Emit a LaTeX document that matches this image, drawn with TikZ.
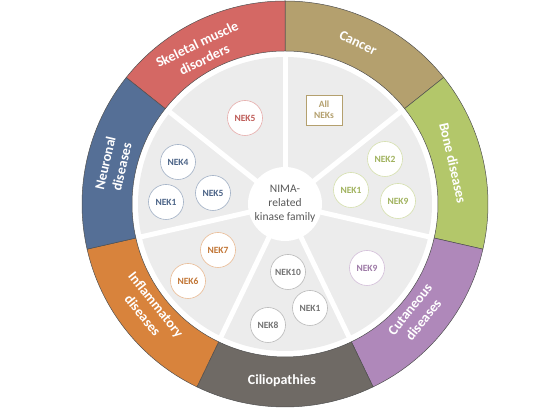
\documentclass[tikz,border=0pt]{standalone}
\usepackage{fontspec}
\setmainfont{Carlito}
\usetikzlibrary{calc}
\definecolor{cskel}{RGB}{212,104,100}
\definecolor{ccanc}{RGB}{180,160,110}
\definecolor{cbone}{RGB}{179,199,106}
\definecolor{ccuta}{RGB}{175,136,186}
\definecolor{ccili}{RGB}{111,106,101}
\definecolor{cinfl}{RGB}{216,131,60}
\definecolor{cneur}{RGB}{85,111,150}
\definecolor{innergrey}{RGB}{236,236,236}
\definecolor{edge}{RGB}{80,80,80}
\definecolor{centertext}{RGB}{89,89,89}
\tikzset{
  ringlabel/.style={text=white, font=\bfseries\fontsize{14}{17}\selectfont, align=center, inner sep=0pt},
  nek/.style={circle, draw=#1!55, fill=white, line width=0.6pt, minimum size=35pt, inner sep=0pt,
    text=#1!90!black, font=\bfseries\fontsize{9.5}{11}\selectfont},
  nekbox/.style={rectangle, draw=#1, fill=white, line width=0.6pt, minimum width=36pt, minimum height=30pt,
    inner sep=0pt, text=#1, align=center, font=\bfseries\fontsize{9.5}{11}\selectfont},
  separator/.style={white, line width=5pt},
  segment/.style={fill=#1, draw=edge, line width=0.5pt}
}
\begin{document}
\begin{tikzpicture}[x=1pt,y=1pt]
\useasboundingbox (0,0) rectangle (550,411);
\coordinate (C) at (285,207);
\begin{scope}[shift={(C)}]
  % outer ring segments
  \foreach \i/\col in {0/ccanc,1/cbone,2/ccuta,3/ccili,4/cinfl,5/cneur,6/cskel}{
    \pgfmathsetmacro\a{90-\i*360/7}
    \pgfmathsetmacro\b{90-(\i+1)*360/7}
    \draw[segment=\col] (\a:203) arc[start angle=\a, end angle=\b, radius=203]
      -- (\b:153) arc[start angle=\b, end angle=\a, radius=153] -- cycle;
  }
  % inner grey disk
  \fill[innergrey] (0,0) circle (147);
  \foreach \i in {0,...,6}{
    \pgfmathsetmacro\a{90-\i*360/7}
    \draw[separator] (0,0) -- (\a:150);
  }
\end{scope}
\node[circle, fill=white, minimum size=74pt, inner sep=0pt, align=center, text=centertext,
  font=\fontsize{11.5}{14}\selectfont] (center) at (C) {NIMA-\\related\\kinase family};

% ring labels
\node[ringlabel, rotate=25.7] (lskel) at ($(C)+(119:174)$) {Skeletal muscle\\disorders};
\node[ringlabel, rotate=-25.7] (lcanc) at ($(C)+(65.6:177)$) {Cancer};
\node[ringlabel, rotate=-77.1] (lbone) at ($(C)+(13.7:173)$) {Bone diseases};
\node[ringlabel, rotate=51.4] (lcuta) at ($(C)+(-40:172)$) {Cutaneous\\diseases};
\node[ringlabel] (lcili) at ($(C)+(-91:177)$) {Ciliopathies};
\node[ringlabel, rotate=-51.4] (linfl) at ($(C)+(-142:172)$) {Inflammatory\\diseases};
\node[ringlabel, rotate=77.1] (lneur) at ($(C)+(167.2:176)$) {Neuronal\\diseases};

% NEK nodes
\node[nek=cskel] (nekskel) at (245,293) {NEK5};
\node[nek=cneur] (nekfour) at (178,249) {NEK4};
\node[nek=cneur] (nekfiveb) at (213,218) {NEK5};
\node[nek=cneur] (nekoneb) at (166,209) {NEK1};
\node[nekbox=ccanc] (allneks) at (324,301) {All\\NEKs};
\node[nek=cbone] (nektwo) at (385,252) {NEK2};
\node[nek=cbone] (nekoneg) at (351,221) {NEK1};
\node[nek=cbone] (nekning) at (398,210) {NEK9};
\node[nek=ccuta] (nekninp) at (367,143) {NEK9};
\node[nek=gray] (nekten) at (288,139) {NEK10};
\node[nek=gray] (nekonek) at (310,103) {NEK1};
\node[nek=gray] (nekeight) at (268,86) {NEK8};
\node[nek=cinfl] (nekseven) at (218,161) {NEK7};
\node[nek=cinfl] (neksix) at (188,130) {NEK6};
\end{tikzpicture}
\end{document}
